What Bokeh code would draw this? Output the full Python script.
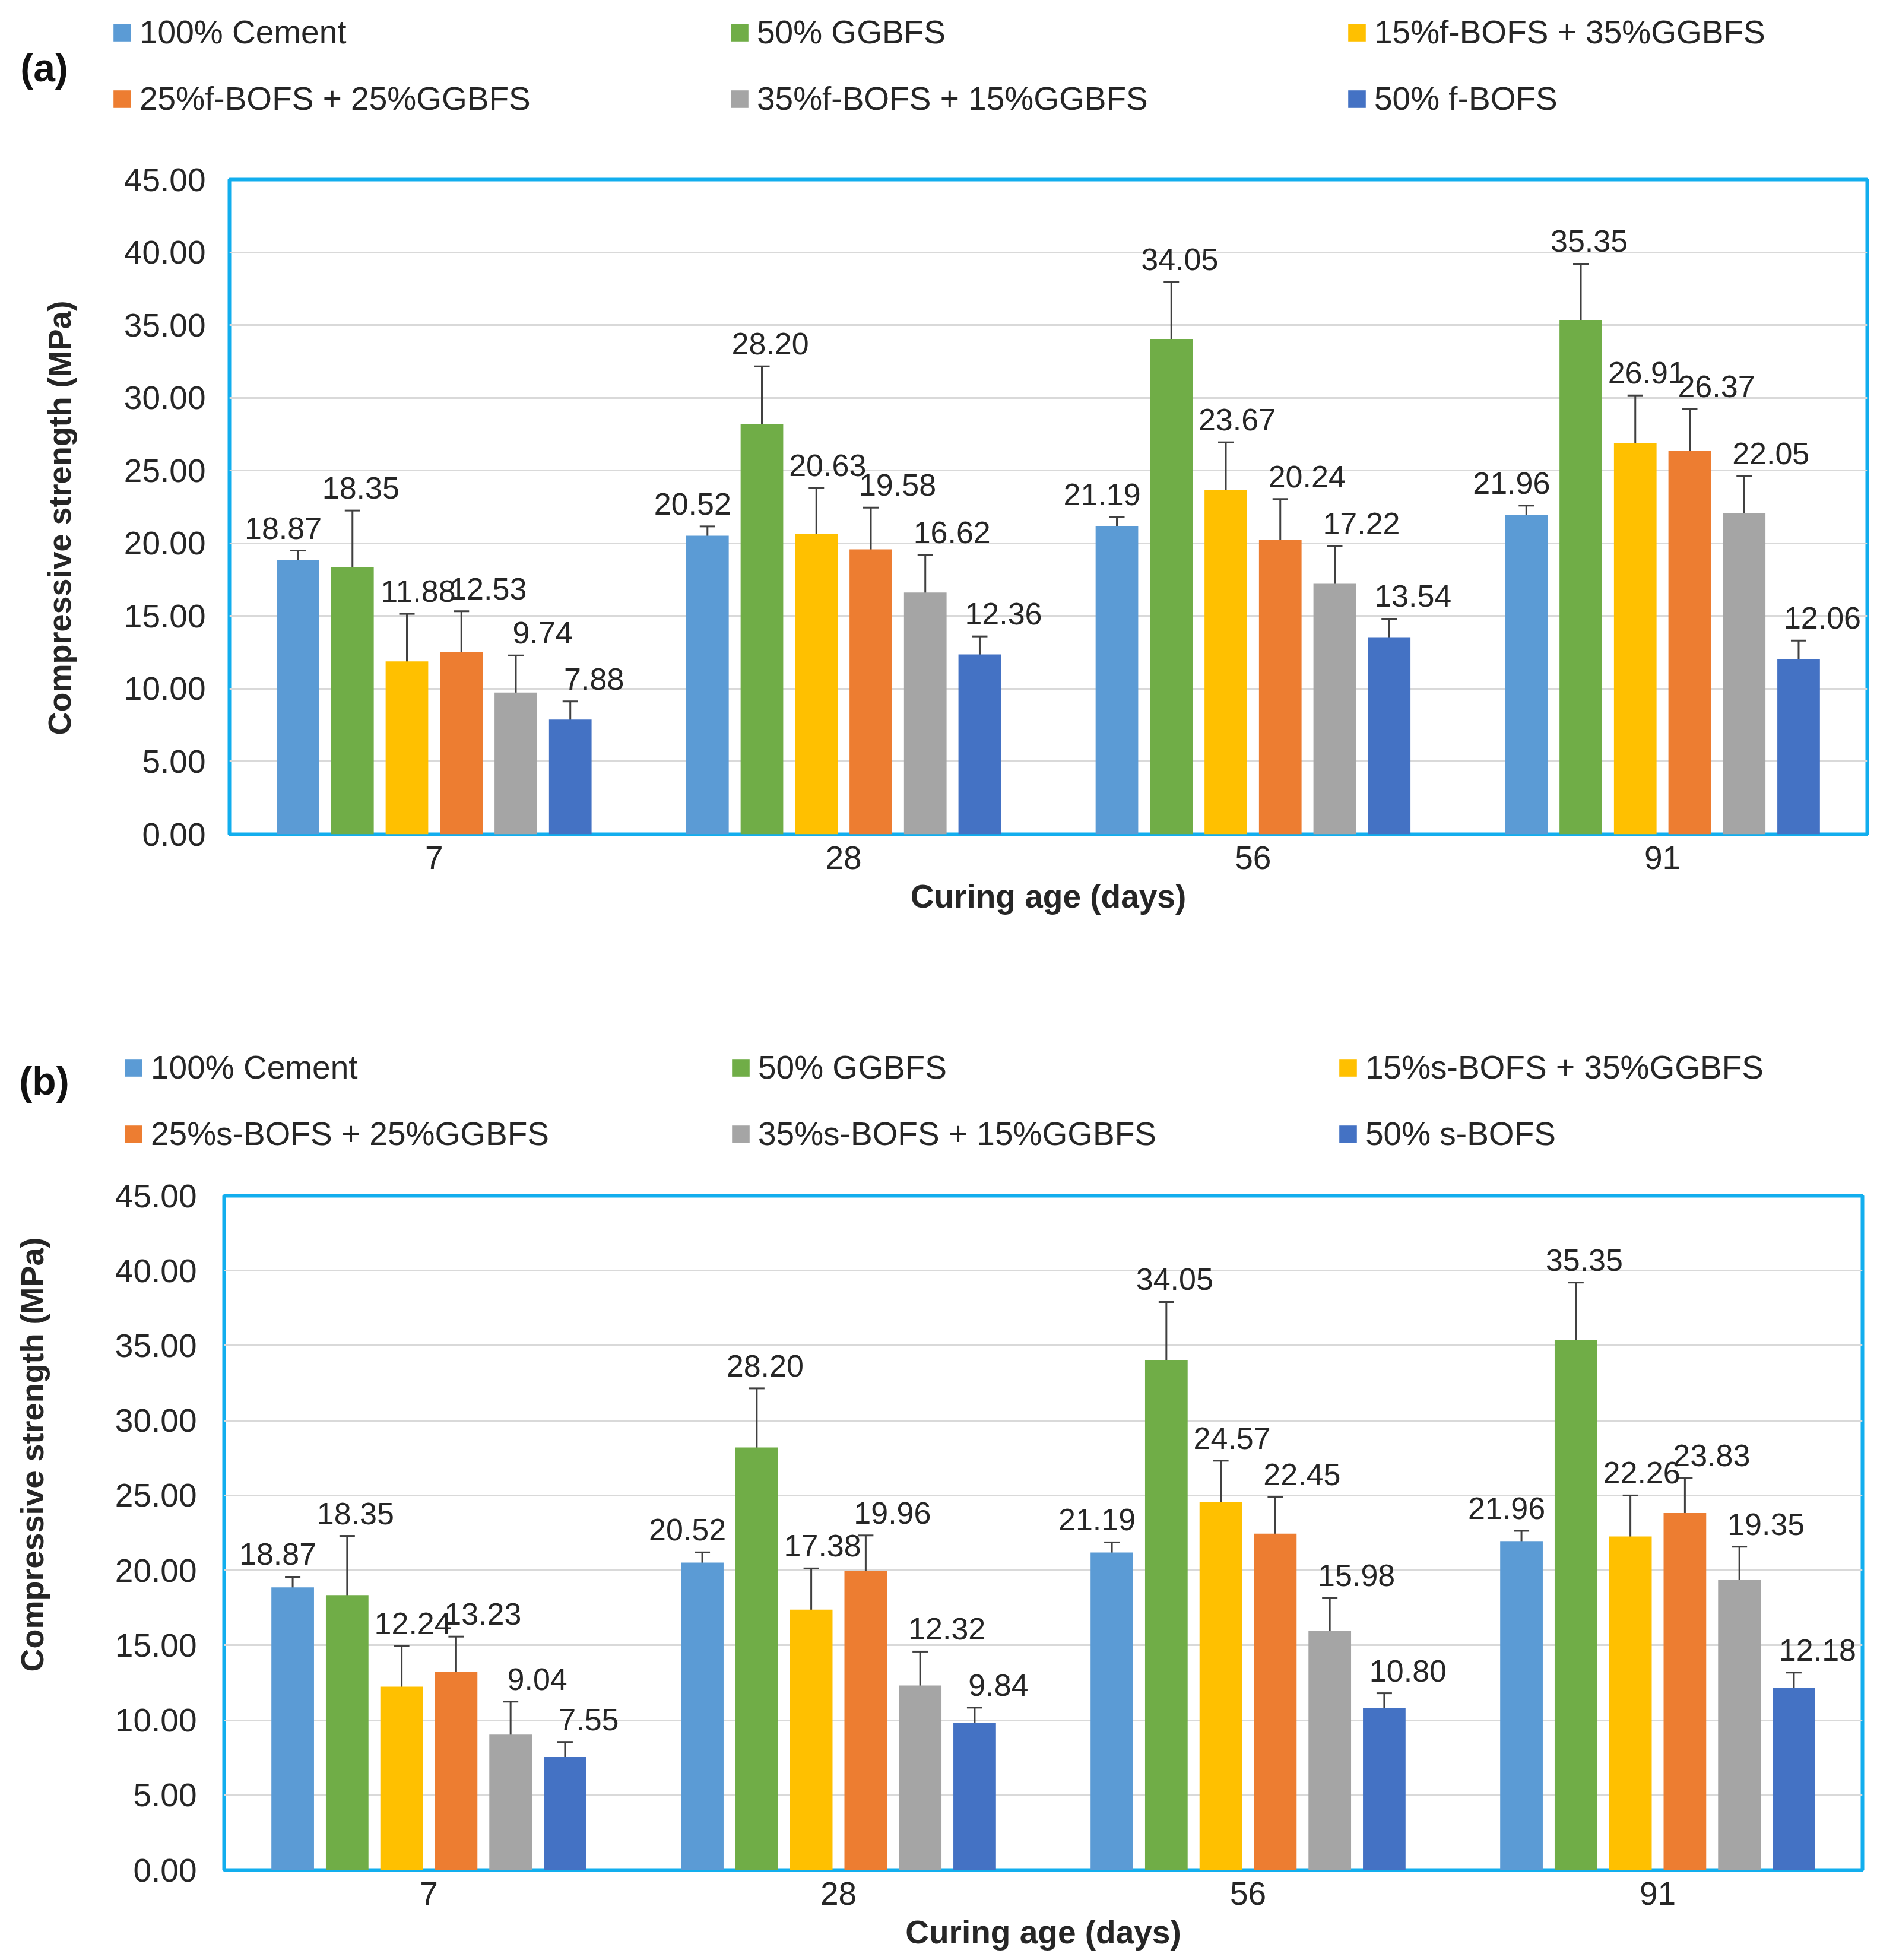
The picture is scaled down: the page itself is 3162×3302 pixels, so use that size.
from math import pi

from bokeh.core.properties import value
from bokeh.embed import file_html
from bokeh.layouts import column, row
from bokeh.models import (ColumnDataSource, FactorRange, FixedTicker, Label, Legend,
                          LegendItem, NumeralTickFormatter, Range1d, TeeHead, Whisker)
from bokeh.plotting import figure
from bokeh.resources import INLINE
from bokeh.transform import dodge

# curing ages (days)
ages = ["7", "28", "56", "91"]

names_a = ["100% Cement", "50% GGBFS", "15%f-BOFS + 35%GGBFS",
           "25%f-BOFS + 25%GGBFS", "35%f-BOFS + 15%GGBFS", "50% f-BOFS"]
names_b = ["100% Cement", "50% GGBFS", "15%s-BOFS + 35%GGBFS",
           "25%s-BOFS + 25%GGBFS", "35%s-BOFS + 15%GGBFS", "50% s-BOFS"]

# compressive strength (MPa)
cement = [18.87, 20.52, 21.19, 21.96]
ggbfs = [18.35, 28.20, 34.05, 35.35]
f15 = [11.88, 20.63, 23.67, 26.91]
f25 = [12.53, 19.58, 20.24, 26.37]
f35 = [9.74, 16.62, 17.22, 22.05]
f50 = [7.88, 12.36, 13.54, 12.06]
s15 = [12.24, 17.38, 24.57, 22.26]
s25 = [13.23, 19.96, 22.45, 23.83]
s35 = [9.04, 12.32, 15.98, 19.35]
s50 = [7.55, 9.84, 10.80, 12.18]

# error bars
cement_err_a = [0.63, 0.64, 0.63, 0.63]
ggbfs_err_a = [3.90, 3.96, 3.90, 3.86]
f15_err = [3.27, 3.19, 3.27, 3.25]
f25_err = [2.80, 2.87, 2.80, 2.88]
f35_err = [2.55, 2.58, 2.58, 2.56]
f50_err = [1.25, 1.24, 1.27, 1.25]
cement_err_b = [0.70, 0.68, 0.68, 0.68]
ggbfs_err_b = [3.95, 3.95, 3.86, 3.86]
s15_err = [2.73, 2.75, 2.75, 2.74]
s25_err = [2.35, 2.37, 2.43, 2.33]
s35_err = [2.20, 2.26, 2.20, 2.23]
s50_err = [1.00, 1.00, 1.00, 1.00]

y_ticks = [0, 5, 10, 15, 20, 25, 30, 35, 40, 45]

colors = ["#5B9BD5", "#70AD47", "#FFC000", "#ED7D31", "#A5A5A5", "#4472C4"]
label_dx = [-25, 14, 19, 45, 45, 40]
FONT = "Liberation Sans"
TEXT = "#262626"
ERR = "#404040"
BORDER = "#12AEEE"
WIDTH = 3154
SIDE = 158


def blank(width, height):
    f = figure(width=width, height=height, x_range=Range1d(0, 1), y_range=Range1d(0, 1),
               x_axis_type=None, y_axis_type=None, min_border=0, frame_align=False,
               toolbar_location=None, tools="", output_backend="svg")
    f.outline_line_color = None
    f.grid.visible = False
    return f


def make_header(tag, names, height, legend_xy, legend_lw, tag_y):
    # strip above each chart holding the legend and the panel tag
    h = blank(WIDTH, height)
    items = []
    for name, c in zip(names, colors):
        r = h.vbar(x=[0], top=[0], width=0, fill_color=c, line_color=None)
        items.append(LegendItem(label=name, renderers=[r]))
    h.add_layout(Legend(items=items, location=legend_xy, orientation="horizontal", ncols=3,
                        glyph_width=37, glyph_height=37, label_standoff=11,
                        label_width=legend_lw, label_height=64, spacing=48,
                        padding=0, margin=0, border_line_color=None,
                        background_fill_alpha=0, label_text_font=FONT,
                        label_text_font_size="55px", label_text_color=TEXT))
    h.add_layout(Label(x=74, y=height - tag_y, x_units="screen", y_units="screen",
                       text=tag, text_font=FONT, text_font_style="bold",
                       text_font_size="66px", text_color="#111111",
                       text_align="center", text_baseline="middle"))
    return h


def make_side(height, title_xy):
    # strip left of each chart holding the y title
    s = blank(SIDE, height)
    s.add_layout(Label(x=title_xy[0], y=title_xy[1], x_units="screen", y_units="screen",
                       text="Compressive strength (MPa)", angle=pi / 2,
                       text_font=FONT, text_font_style="bold", text_font_size="54px",
                       text_color=TEXT, text_align="center", text_baseline="middle"))
    return s


def make_panel(names, values, errors, frame, borders, ystandoff):
    left, right, bottom = borders
    p = figure(x_range=FactorRange(*ages), y_range=Range1d(0, 45),
               frame_width=frame[0], frame_height=frame[1],
               min_border_left=left, min_border_right=right,
               min_border_top=40, min_border_bottom=bottom, frame_align=False,
               toolbar_location=None, tools="", output_backend="svg")

    for i, (name, vals, errs) in enumerate(zip(names, values, errors)):
        src = ColumnDataSource(dict(
            age=ages, val=vals,
            upper=[v + e for v, e in zip(vals, errs)],
            lower=[v - e for v, e in zip(vals, errs)],
            txt=["%.2f" % v for v in vals]))
        off = (i - 2.5) * 0.133
        p.vbar(x=dodge("age", off, range=p.x_range), top="val", width=0.104,
               source=src, fill_color=colors[i], line_color=None)
        p.add_layout(Whisker(source=src, base=dodge("age", off, range=p.x_range),
                             upper="upper", lower="lower",
                             line_color=ERR, line_width=3,
                             upper_head=TeeHead(size=26, line_color=ERR, line_width=3),
                             lower_head=TeeHead(size=26, line_color=ERR, line_width=3)))
        p.text(x=dodge("age", off, range=p.x_range), y="upper", text="txt", source=src,
               text_font=value(FONT), text_font_size="52px", text_color=TEXT,
               text_align="center", text_baseline="alphabetic",
               x_offset=label_dx[i], y_offset=-38)

    p.yaxis.ticker = FixedTicker(ticks=y_ticks)
    p.yaxis.formatter = NumeralTickFormatter(format="0.00")
    p.yaxis.major_label_standoff = ystandoff
    p.xaxis.major_label_standoff = 20
    p.xaxis.axis_label = "Curing age (days)"
    p.xaxis.axis_label_standoff = 12

    for ax in p.axis:
        ax.axis_line_color = None
        ax.major_tick_line_color = None
        ax.minor_tick_line_color = None
        ax.major_tick_out = 0
        ax.major_tick_in = 0
        ax.major_label_text_font = FONT
        ax.major_label_text_font_size = "55px"
        ax.major_label_text_color = TEXT
        ax.axis_label_text_font = FONT
        ax.axis_label_text_font_style = "bold"
        ax.axis_label_text_font_size = "55px"
        ax.axis_label_text_color = TEXT

    p.xgrid.grid_line_color = None
    p.ygrid.grid_line_color = "#D9D9D9"
    p.ygrid.grid_line_width = 3
    p.outline_line_color = BORDER
    p.outline_line_width = 6
    p.outline_line_alpha = 1.0
    p.background_fill_color = "white"
    p.border_fill_color = "white"
    return p


ha = make_header("(a)", names_a, 262, legend_xy=(187, 64), legend_lw=944, tag_y=113)
sa = make_side(1386, title_xy=(99, 776))
pa = make_panel(names_a,
                [cement, ggbfs, f15, f25, f35, f50],
                [cement_err_a, ggbfs_err_a, f15_err, f25_err, f35_err, f50_err],
                frame=(2759, 1103), borders=(228, 9, 243), ystandoff=40)

hb = make_header("(b)", names_b, 326, legend_xy=(206, 32), legend_lw=927, tag_y=172)
sb = make_side(1320, title_xy=(53, 844))
pb = make_panel(names_b,
                [cement, ggbfs, s15, s25, s35, s50],
                [cement_err_b, ggbfs_err_b, s15_err, s25_err, s35_err, s50_err],
                frame=(2760, 1136), borders=(219, 17, 144), ystandoff=46)

layout = column(ha, row(sa, pa, spacing=0), hb, row(sb, pb, spacing=0), spacing=0)
open("out.html", "w").write(file_html(layout, INLINE))
